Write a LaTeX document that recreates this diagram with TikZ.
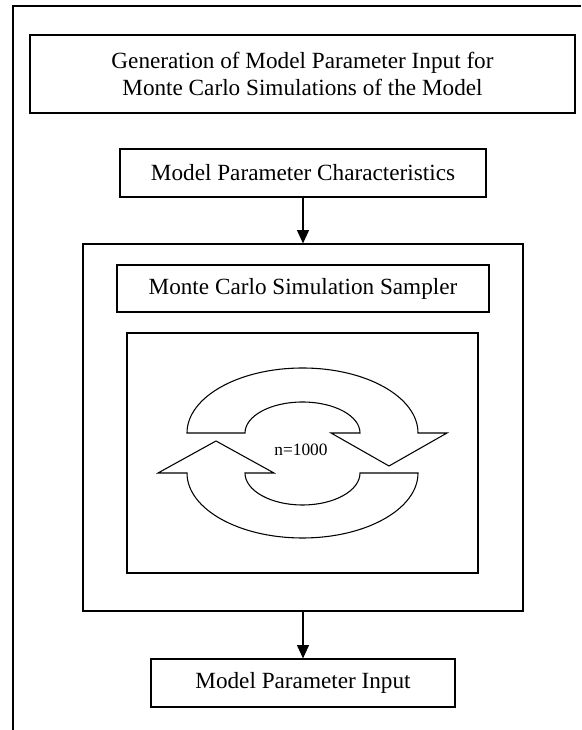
\documentclass[tikz,border=0pt]{standalone}
\usepackage{fontspec}
\setmainfont{Liberation Serif}
\usetikzlibrary{arrows.meta}
\begin{document}
\begin{tikzpicture}[x=0.75pt,y=0.75pt,
  box/.style={draw, rectangle, inner sep=0pt, line width=0.9pt,
    font=\fontsize{17.4}{20.5}\selectfont, align=center},
  arr/.style={line width=0.9pt, -{Triangle[length=10pt,width=9pt]}},
  cyc/.style={draw, line width=0.8pt, fill=white, line join=miter}]
\useasboundingbox (0,0) rectangle (581,730);

% outer frame (left and top edges)
\draw[line width=0.8pt] (13,0) -- (13,724) -- (581,724);

% title box
\node[box, line width=1.3pt, minimum width={545*0.75pt}, minimum height={78*0.75pt}]
  (title) at (302.5,656) {Generation of Model Parameter Input for\\Monte Carlo Simulations of the Model};

% characteristics
\node[box, minimum width={366*0.75pt}, minimum height={48*0.75pt}]
  (mpc) at (303,557) {Model Parameter Characteristics};

% sampler container
\node[box, minimum width={440*0.75pt}, minimum height={367*0.75pt}]
  (sim) at (303,302.5) {};
\node[box, minimum width={372*0.75pt}, minimum height={47*0.75pt}]
  (mcss) at (303,441.5) {Monte Carlo Simulation Sampler};
\node[box, minimum width={351*0.75pt}, minimum height={240*0.75pt}]
  (loop) at (302.5,277) {};

% cycle arrows
\draw[cyc] (187,297) arc[start angle=180, end angle=0, x radius=115.5, y radius=65]
  -- (447,297) -- (389,264) -- (331,297) -- (360,297)
  arc[start angle=0, end angle=180, x radius=57.5, y radius=31] -- cycle;
\draw[cyc] (418,257) arc[start angle=0, end angle=-180, x radius=115.5, y radius=65]
  -- (158,257) -- (216,289) -- (274,257) -- (245,257)
  arc[start angle=180, end angle=360, x radius=57.5, y radius=32] -- cycle;
\node[font=\fontsize{13}{15}\selectfont, inner sep=0pt] (n) at (301,280) {n=1000};

% output
\node[box, minimum width={304*0.75pt}, minimum height={48*0.75pt}]
  (mpi) at (303,47) {Model Parameter Input};

\draw[arr] (mpc.south) -- (sim.north);
\draw[arr] (sim.south) -- (mpi.north);
\end{tikzpicture}
\end{document}
